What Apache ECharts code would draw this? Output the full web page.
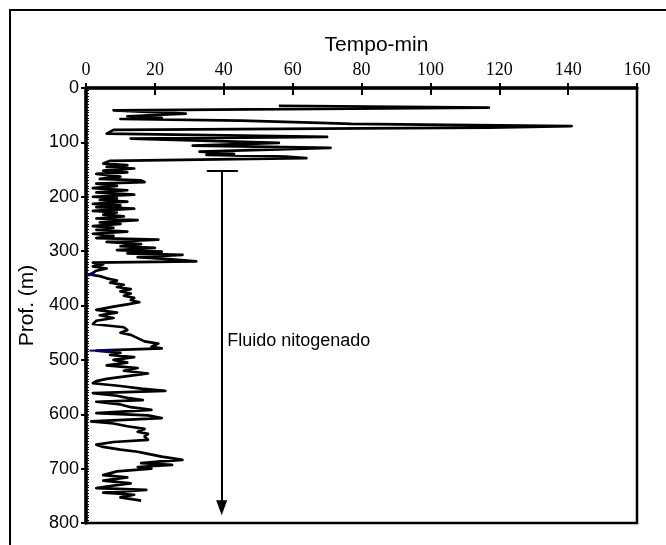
<!DOCTYPE html>
<html>
<head>
<meta charset="utf-8">
<script src="https://cdn.jsdelivr.net/npm/echarts@6/dist/echarts.min.js"></script>
<style>html,body{margin:0;padding:0;background:#fff;}#c{width:666px;height:545px;}</style>
</head>
<body>
<div id="c"></div>
<script>
const xTicks = [0, 20, 40, 60, 80, 100, 120, 140, 160];
const yTicks = [0, 100, 200, 300, 400, 500, 600, 700, 800];
const timeMin = [56,117,8,29,12,22,10,45,68,77,141,117,8,6,70,13,56,31,71,33,43,35,58,64,7,
5,12,6,14,5,12,3,10,4,16,17,3,9,2,12,3,14,2,9,4,12,2,10,3,14,2,9,5,11,3,15,4,10,2,8,3,12,2,8,3,
21,6,16,10,20,9,22,12,28,15,25,32,2,5,2,6,3,2,1,4,6,9,7,11,9,13,10,13,11,14,13,15.5,12,8,3,9,4,8,3,2,
11,12,10,13,15,17,21,19,22,3,10,7,14,8,12,6,15,11,18,12,6,3,2,10,16,23,2,9,12,16.5,3,10,13,19,3,18,22,
1.5,8,12,17,15,18,17,18,8,3,5,10,15,18,22,28,21,16,25,15,19,9,5,12,5,13,7,3,17.5,5,14,10,16];
const depthM = [33,36,41,47,52,55,57,60,64,66,70,73,77,84,90,93,101,106,110,117,121,123,126,129,134,
139,142,145,148,152,155,158,163,167,170,173,176,180,184,188,192,196,200,203,206,209,213,216,219,222,226,229,233,236,240,243,247,250,254,257,261,264,268,272,276,
279,283,287,291,294,298,301,304,307,311,315,319,321,324,328,332,336,340,343,346,350,354,358,362,366,370,374,378,382,386,390,394,398,402,408,413,418,423,428,434,
440,445,450,454,460,466,470,476,479,483,487,491,495,500,505,510,515,520,525,530,535,539,543,548,553,557,561,566,570,574,577,582,587,592,598,602,607,
613,617,622,627,632,636,641,647,651,656,660,665,669,673,678,684,687,690,693,697,700,705,712,716,722,727,732,736,739,744,748,753,759];
const blueTimeA = [0.5, 2.5];
const blueDepthA = [344, 341];
const blueTimeB = [1, 8];
const blueDepthB = [483, 483];
const arrowTime = 39.4;
const arrowDepth = [153, 772];
const barTime = [35.1, 44.1];
const labelText = 'Fluido nitogenado';
const labelPos = [41, 465];

const zip = (a, b) => a.map((v, i) => [v, b[i]]);
const chart = echarts.init(document.getElementById('c'), null, {renderer: 'canvas'});
const black = '#000';
const baseX = {
  type: 'value', position: 'top', min: xTicks[0], max: xTicks[xTicks.length - 1], interval: 20,
  splitLine: {show: false}
};
const baseY = {
  type: 'value', inverse: true, position: 'left', min: yTicks[0], max: yTicks[yTicks.length - 1], interval: 100,
  splitLine: {show: false}
};
chart.setOption({
  animation: false,
  backgroundColor: '#fff',
  grid: {left: 86, right: 29, top: 88, bottom: 22, show: true, borderColor: black, borderWidth: 2.5},
  graphic: [{
    type: 'polyline', silent: true,
    shape: {points: [[10, 545], [10, 10], [666, 10]]},
    style: {stroke: black, lineWidth: 2, fill: null}
  }],
  xAxis: [
    Object.assign({}, baseX, {
      name: 'Tempo-min', nameLocation: 'middle', nameGap: 32,
      nameTextStyle: {fontFamily: 'Liberation Sans', fontSize: 21, color: black, padding: [0, 0, 0, 30]},
      axisLine: {show: true, onZero: false, lineStyle: {color: black, width: 3.5}},
      axisTick: {show: true, length: 5, lineStyle: {color: black, width: 2}},
      axisLabel: {fontFamily: 'Liberation Serif', fontSize: 18, color: black, margin: 9}
    }),
    Object.assign({}, baseX, {
      axisLine: {show: false},
      axisTick: {show: true, inside: true, length: 7, lineStyle: {color: black, width: 2}},
      axisLabel: {show: false}
    })
  ],
  yAxis: [
    Object.assign({}, baseY, {
      name: 'Prof. (m)', nameLocation: 'middle', nameGap: 46, nameRotate: 90,
      nameTextStyle: {fontFamily: 'Liberation Sans', fontSize: 21, color: black},
      axisLine: {show: true, onZero: false, lineStyle: {color: black, width: 3.5}},
      axisTick: {show: true, length: 5, lineStyle: {color: black, width: 2}},
      axisLabel: {fontFamily: 'Liberation Sans', fontSize: 18, color: black, margin: 7}
    }),
    Object.assign({}, baseY, {
      axisLine: {show: false},
      axisTick: {show: true, inside: true, length: 3, lineStyle: {color: black, width: 1.5}},
      minorTick: {show: true, splitNumber: 20, length: 3, lineStyle: {color: black, width: 1}},
      axisLabel: {show: false}
    })
  ],
  series: [
    {
      type: 'line', data: zip(timeMin, depthM), showSymbol: false, symbol: 'none',
      lineStyle: {color: black, width: 2.7, join: 'round'}, silent: true, z: 3
    },
    {
      type: 'line', data: zip(blueTimeA, blueDepthA), showSymbol: false, symbol: 'none',
      lineStyle: {color: '#000080', width: 3}, silent: true, z: 4
    },
    {
      type: 'line', data: zip(blueTimeB, blueDepthB), showSymbol: false, symbol: 'none',
      lineStyle: {color: '#000080', width: 2}, silent: true, z: 4
    },
    {
      type: 'scatter', data: [labelPos], symbolSize: 0, itemStyle: {color: black}, silent: true,
      label: {show: true, position: 'right', distance: 0, formatter: labelText,
        fontFamily: 'Liberation Sans', fontSize: 18, color: '#000', opacity: 1},
      emphasis: {disabled: true},
      markLine: {
        silent: true, animation: false, label: {show: false},
        lineStyle: {color: black, width: 2, type: 'solid'},
        emphasis: {disabled: true},
        data: [
          [{coord: [arrowTime, arrowDepth[0]], symbol: 'none'},
           {coord: [arrowTime, arrowDepth[1]], symbol: 'triangle', symbolSize: [11, 15]}],
          [{coord: [barTime[0], arrowDepth[0]], symbol: 'none'},
           {coord: [barTime[1], arrowDepth[0]], symbol: 'none'}]
        ]
      }
    }
  ]
});
</script>
</body>
</html>
